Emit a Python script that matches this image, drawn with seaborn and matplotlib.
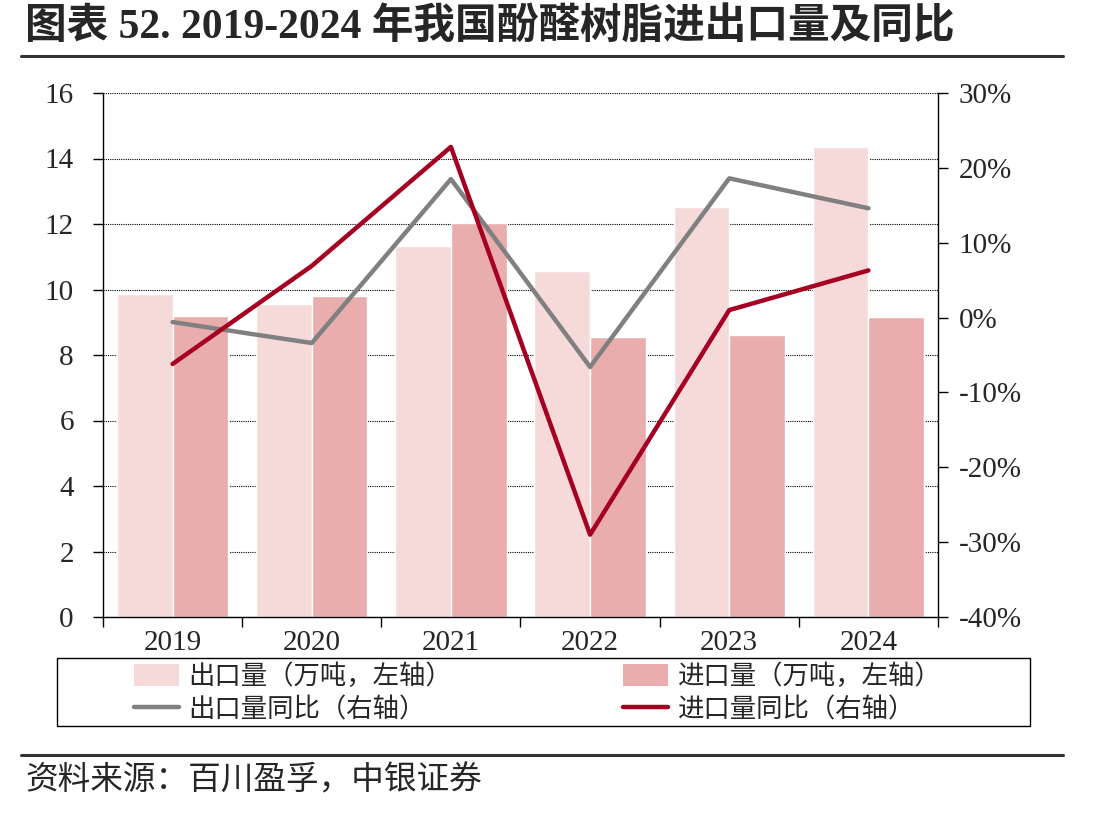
import numpy as np
import pandas as pd
import matplotlib.pyplot as plt
import seaborn as sns
from matplotlib.lines import Line2D
from matplotlib.patches import Patch, Rectangle
from matplotlib.ticker import FuncFormatter

# 数据
years = ['2019', '2020', '2021', '2022', '2023', '2024']
export_vol = [9.86, 9.56, 11.33, 10.56, 12.52, 14.35]
import_vol = [9.19, 9.80, 12.03, 8.55, 8.61, 9.16]
export_yoy = [-0.6, -3.4, 18.5, -6.6, 18.6, 14.6]
import_yoy = [-6.2, 6.9, 22.8, -29.0, 1.0, 6.3]

labels = ['出口量（万吨，左轴）', '进口量（万吨，左轴）', '出口量同比（右轴）', '进口量同比（右轴）']
c_export_bar = '#F6DADA'
c_import_bar = '#E8ADAC'
c_export_line = '#808080'
c_import_line = '#A50021'

sns.set_theme(style='white')
fonts = ['Liberation Serif', 'Noto Sans CJK SC']
plt.rcParams['font.family'] = fonts
plt.rcParams['axes.unicode_minus'] = False

df = pd.DataFrame({
    'year': years * 2,
    'value': export_vol + import_vol,
    'kind': [labels[0]] * 6 + [labels[1]] * 6,
})

W, H = 1101, 814
fig = plt.figure(figsize=(W / 100, H / 100), dpi=100)
ax = fig.add_axes([103 / W, 1 - 617 / H, (938 - 103) / W, (617 - 93) / H])

sns.barplot(data=df, x='year', y='value', hue='kind', ax=ax, width=0.8, gap=0,
            palette=[c_export_bar, c_import_bar], saturation=1, legend=False)
ax.set_xlim(-0.5, 5.5)
ax.set_ylim(0, 16)
ax.set_yticks(np.arange(0, 17, 2))
ax.set_xlabel('')
ax.set_ylabel('')
ax.set_xticks(np.arange(-0.5, 6, 1))
ax.set_xticklabels([])
ax.set_xticks(np.arange(6), minor=True)
ax.set_xticklabels(years, minor=True)
ax.tick_params(axis='x', which='major', direction='out', length=7, width=1, color='black', bottom=True)
ax.tick_params(axis='x', which='minor', length=0, pad=9, labelsize=21)
ax.tick_params(axis='y', direction='out', length=7, width=1, color='black', left=True, labelsize=21, pad=14)
ax.yaxis.grid(True, color='black', linestyle=(0, (1, 1)), linewidth=0.8)
ax.set_axisbelow(True)
for side in ['left', 'bottom']:
    ax.spines[side].set_color('black')
    ax.spines[side].set_linewidth(1)
ax.spines['top'].set_visible(False)
ax.spines['right'].set_visible(False)

ax2 = ax.twinx()
x = np.arange(6)
sns.lineplot(x=x, y=export_yoy, ax=ax2, color=c_export_line, linewidth=3.2, sort=False)
sns.lineplot(x=x, y=import_yoy, ax=ax2, color=c_import_line, linewidth=3.2, sort=False)
ax2.set_ylim(-40, 30)
ax2.set_yticks(np.arange(-40, 31, 10))
ax2.yaxis.set_major_formatter(FuncFormatter(lambda v, p: f'{v:.0f}%'))
ax2.tick_params(axis='y', direction='out', length=7, width=1, color='black', right=True, labelsize=21, pad=8)
ax2.grid(False)
for side in ['top', 'left', 'bottom']:
    ax2.spines[side].set_visible(False)
ax2.spines['right'].set_color('black')
ax2.spines['right'].set_linewidth(1)
ax2.set_xlim(-0.5, 5.5)

# 图例
handles = [
    Patch(facecolor=c_export_bar, edgecolor='none'),
    Line2D([], [], color=c_export_line, linewidth=3.2),
    Patch(facecolor=c_import_bar, edgecolor='none'),
    Line2D([], [], color=c_import_line, linewidth=3.2),
]
leg_labels = [labels[0], labels[2], labels[1], labels[3]]
leg = fig.legend(handles, leg_labels, ncol=2, loc='center left',
                 bbox_to_anchor=(134 / W, 1 - 693 / H), borderaxespad=0, fontsize=19,
                 frameon=False, handlelength=1.7, handleheight=0.9, handletextpad=0.35,
                 labelspacing=0.3, borderpad=0, columnspacing=6.5)
fig.add_artist(Rectangle((57 / W, 1 - 726 / H), (1030 - 57) / W, (726 - 658) / H,
                         transform=fig.transFigure, fill=False, edgecolor='black', linewidth=1))

# 标题与来源
fig.text(25 / W, 1 - 27 / H, '图表 52. 2019-2024 年我国酚醛树脂进出口量及同比',
         fontsize=30, fontweight='bold', va='center', ha='left', family=fonts)
fig.add_artist(Line2D([21 / W, 1063 / W], [1 - 56 / H] * 2, color='#333333', linewidth=2.2))
fig.add_artist(Line2D([21 / W, 1063 / W], [1 - 755 / H] * 2, color='#333333', linewidth=2.2))
fig.text(25 / W, 1 - 781 / H, '资料来源：百川盈孚，中银证券',
         fontsize=23.5, style='italic', va='center', ha='left', family=fonts)

fig.savefig('out.png', dpi=100)
